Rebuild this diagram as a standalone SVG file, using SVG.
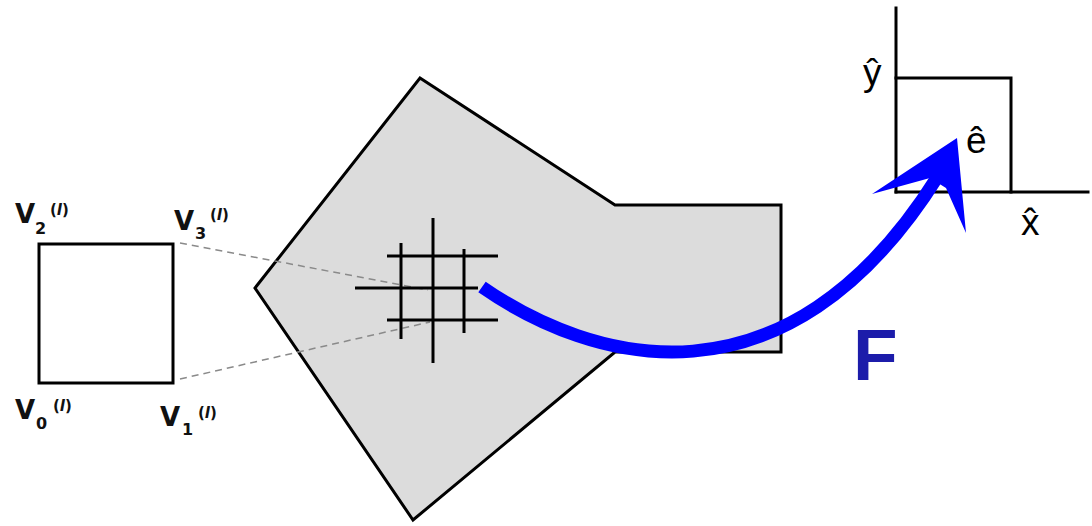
<svg xmlns="http://www.w3.org/2000/svg" width="1092" height="526" viewBox="0 0 1092 526">
<style>
.edge{fill:none;stroke:#000;stroke-width:3;stroke-linecap:square}
.grid{stroke:#000;stroke-width:3;stroke-linecap:butt}
.dash{fill:none;stroke:#8a8a8a;stroke-width:1.5;stroke-dasharray:7 5}
.lab{font-family:"DejaVu Sans","Verdana",sans-serif;font-weight:bold;fill:#111}
.big{font-size:26px}
.sub{font-size:16px}
.sup{font-size:15px}
.hat{font-family:"Liberation Sans",Arial,sans-serif;font-size:37px;fill:#000}
</style>
<rect width="1092" height="526" fill="#fff"/>
<g id="physical-element">
<polygon points="420,78 615,205 781,205 781,352 615,352 413,520 255,288" fill="#dcdcdc" stroke="#000" stroke-width="3" stroke-linejoin="miter"/>
</g>
<g id="connectors">
<line class="dash" x1="180" y1="243" x2="428" y2="290"/>
<line class="dash" x1="180" y1="379" x2="430" y2="322"/>
</g>
<g id="quad-grid">
<line class="grid" x1="401" y1="243" x2="401" y2="339"/>
<line class="grid" x1="433" y1="218" x2="433" y2="363"/>
<line class="grid" x1="464" y1="249" x2="464" y2="333"/>
<line class="grid" x1="387" y1="256" x2="498" y2="256"/>
<line class="grid" x1="355" y1="288" x2="478" y2="288"/>
<line class="grid" x1="387" y1="320" x2="498" y2="320"/>
</g>
<g id="reference-square">
<rect x="39" y="244" width="134" height="139" fill="#fff" stroke="#000" stroke-width="3"/>
<text class="lab big" x="15" y="223">V</text><text class="lab sub" x="35" y="234">2</text><text class="lab sup" x="50" y="215">(<tspan font-style="italic">l</tspan>)</text>
<text class="lab big" x="174" y="230">V</text><text class="lab sub" x="195" y="239">3</text><text class="lab sup" x="210" y="220">(<tspan font-style="italic">l</tspan>)</text>
<text class="lab big" x="15" y="419">V</text><text class="lab sub" x="36" y="429">0</text><text class="lab sup" x="53" y="411">(<tspan font-style="italic">l</tspan>)</text>
<text class="lab big" x="160" y="426">V</text><text class="lab sub" x="182" y="435">1</text><text class="lab sup" x="198" y="418">(<tspan font-style="italic">l</tspan>)</text>
</g>
<g id="reference-axes">
<line class="edge" x1="896" y1="8" x2="896" y2="192"/>
<line class="edge" x1="896" y1="192" x2="1088" y2="192"/>
<polyline class="edge" points="896,78 1011,78 1011,192"/>
<text class="hat" x="863" y="85">ŷ</text>
<text class="hat" x="966" y="153">ê</text>
<text class="hat" x="1021" y="235">x̂</text>
</g>
<g id="mapping-F">
<path d="M482,287 C590,362 785,420 938,176" fill="none" stroke="#0000ff" stroke-width="13" stroke-linecap="butt"/>
<polygon points="957,138 872,194 930,178 946,188 966,233" fill="#0000ff"/>
<text x="853" y="380" font-family="'Liberation Sans',Arial,sans-serif" font-weight="bold" font-size="73" fill="#1c1caa">F</text>
</g>
</svg>
